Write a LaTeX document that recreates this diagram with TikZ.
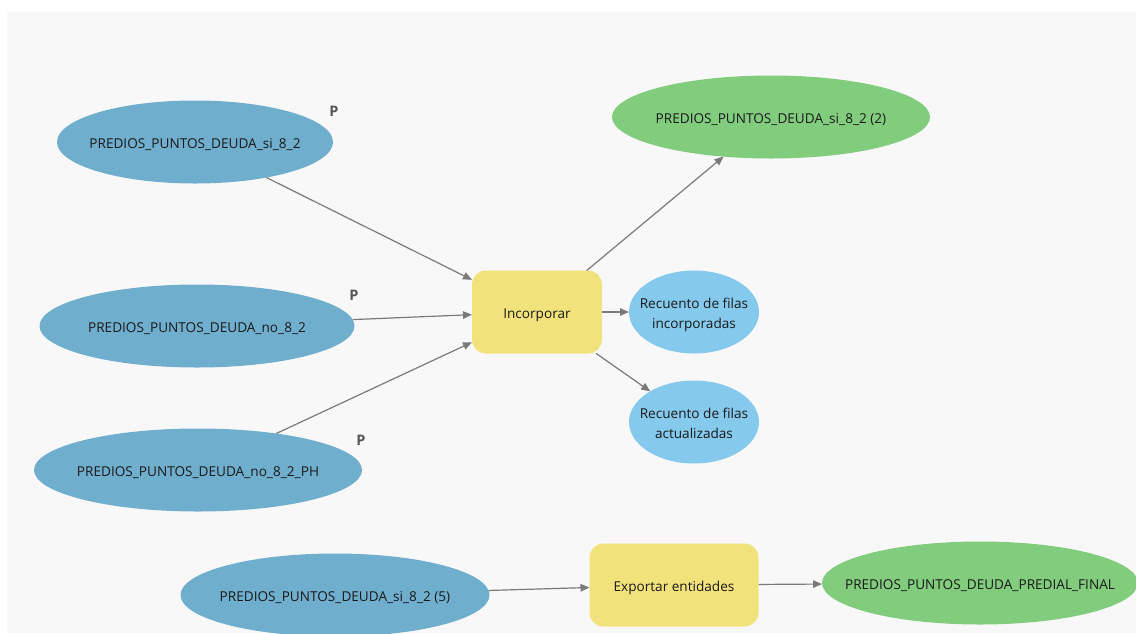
\documentclass[tikz,border=0pt]{standalone}
\usepackage{fontspec}
\setmainfont{Open Sans}
\usetikzlibrary{shapes.geometric,arrows.meta}
\definecolor{canvas}{HTML}{F8F8F8}
\definecolor{datablue}{HTML}{6FAECC}
\definecolor{outblue}{HTML}{85C9EC}
\definecolor{toolyellow}{HTML}{F2E27C}
\definecolor{outgreen}{HTML}{82CC7E}
\definecolor{linkgray}{HTML}{7A7A7A}
\definecolor{inktext}{HTML}{1A1A1A}
\definecolor{paramgray}{HTML}{555555}
\tikzset{
  base/.style={inner sep=0pt, outer sep=0pt, text=inktext, font=\fontsize{13.6}{20}\selectfont},
  dataset/.style={base, ellipse, fill=datablue, minimum height=83pt},
  result/.style={base, ellipse, fill=outgreen, minimum height=83pt},
  counter/.style={base, ellipse, fill=outblue, minimum width=130pt, minimum height=83pt},
  tool/.style={base, rectangle, rounded corners=14pt, fill=toolyellow, minimum height=83pt},
  param/.style={inner sep=0pt, text=paramgray, font=\fontsize{14.5}{16}\selectfont\bfseries},
  link/.style={draw=linkgray, line width=1.2pt, -{Triangle[length=9pt,width=7.5pt]}},
}
% labels of zero size, placed by their baseline, so the shapes keep their set sizes
\newcommand{\zw}[1]{\makebox[0pt]{\smash{\raisebox{-6pt}{#1}}}}
\newcommand{\zwtwo}[2]{\makebox[0pt]{\smash{\raisebox{4pt}{\begin{tabular}[t]{@{}c@{}}#1\\#2\end{tabular}}}}}
\begin{document}
\begin{tikzpicture}[x=1pt,y=-1pt]
  % page and canvas
  \fill[white] (0,0) rectangle (1136,633);
  \fill[canvas] (7,12) rectangle (1136,633);
  \useasboundingbox (0,0) rectangle (1136,633);

  % inputs
  \node[dataset, minimum width=276pt] (si) at (195,142) {\zw{PREDIOS\_PUNTOS\_DEUDA\_si\_8\_2}};
  \node[dataset, minimum width=315pt] (no) at (197,326) {\zw{PREDIOS\_PUNTOS\_DEUDA\_no\_8\_2}};
  \node[dataset, minimum width=328pt] (noph) at (198,470) {\zw{PREDIOS\_PUNTOS\_DEUDA\_no\_8\_2\_PH}};
  \node[dataset, minimum width=309pt] (si5) at (335,595) {\zw{PREDIOS\_PUNTOS\_DEUDA\_si\_8\_2 (5)}};

  % parameter markers
  \node[param] (psi) at (334,111) {P};
  \node[param] (pno) at (354,295) {P};
  \node[param] (pnoph) at (361,440) {P};

  % tools
  \node[tool, minimum width=130pt] (inc) at (537,312) {\zw{Incorporar}};
  \node[tool, minimum width=169pt] (exp) at (674,585) {\zw{Exportar entidades}};

  % outputs
  \node[result, minimum width=318pt] (out2) at (771,117) {\zw{PREDIOS\_PUNTOS\_DEUDA\_si\_8\_2 (2)}};
  \node[counter] (rinc) at (694,312) {\zwtwo{Recuento de filas}{incorporadas}};
  \node[counter] (ract) at (694,422) {\zwtwo{Recuento de filas}{actualizadas}};
  \node[result, minimum width=316pt] (final) at (980,583) {\zw{PREDIOS\_PUNTOS\_DEUDA\_PREDIAL\_FINAL}};

  % connectors
  \draw[link] (si) -- (inc);
  \draw[link] (no) -- (inc);
  \draw[link] (noph) -- (inc);
  \draw[link] (inc) -- (out2);
  \draw[link] (inc) -- (rinc);
  \draw[link] (inc) -- (ract);
  \draw[link] (si5) -- (exp);
  \draw[link] (exp) -- (final);
\end{tikzpicture}
\end{document}
